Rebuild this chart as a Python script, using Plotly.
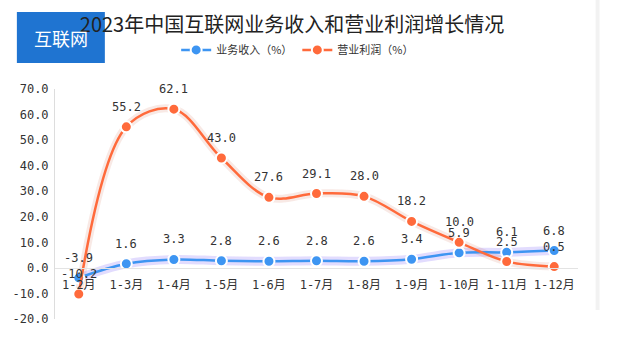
import plotly.graph_objects as go

categories = ["1-2月", "1-3月", "1-4月", "1-5月", "1-6月", "1-7月", "1-8月", "1-9月", "1-10月", "1-11月", "1-12月"]
revenue = [-3.9, 1.6, 3.3, 2.8, 2.6, 2.8, 2.6, 3.4, 5.9, 6.1, 6.8]
profit = [-10.2, 55.2, 62.1, 43.0, 27.6, 29.1, 28.0, 18.2, 10.0, 2.5, 0.5]
y_ticks = [-20, -10, 0, 10, 20, 30, 40, 50, 60, 70]

BLUE = "#3d95f2"
ORANGE = "#ff6a3b"
FONT = "Noto Sans CJK SC"
NUMFONT = "DejaVu Sans Mono, Noto Sans CJK SC"

fig = go.Figure()

# soft glow under lines
fig.add_trace(go.Scatter(x=categories, y=revenue, mode="lines",
                         line=dict(color="rgba(110,80,250,0.2)", width=9, shape="spline"),
                         showlegend=False, hoverinfo="skip"))
fig.add_trace(go.Scatter(x=categories, y=profit, mode="lines",
                         line=dict(color="rgba(200,70,40,0.12)", width=8, shape="spline"),
                         showlegend=False, hoverinfo="skip"))

fig.add_trace(go.Scatter(
    x=categories, y=revenue, name="业务收入（%）",
    mode="lines+markers",
    line=dict(color=BLUE, width=2.5, shape="spline"),
    marker=dict(size=11, color=BLUE, line=dict(color="white", width=2)),
))
fig.add_trace(go.Scatter(
    x=categories, y=profit, name="营业利润（%）",
    mode="lines+markers",
    line=dict(color=ORANGE, width=2.5, shape="spline"),
    marker=dict(size=11, color=ORANGE, line=dict(color="white", width=2)),
))

# data labels above points
for series in (revenue, profit):
    for c, v in zip(categories, series):
        fig.add_annotation(x=c, y=v, text=f"{v:.1f}", showarrow=False,
                           xanchor="center", yanchor="middle", yshift=20,
                           font=dict(family=NUMFONT, size=12, color="#333333"))

ymin, ymax = -20, 70
fig.update_layout(
    width=628, height=358,
    margin=dict(l=43, r=50, t=89, b=39),
    paper_bgcolor="white", plot_bgcolor="white",
    font=dict(family=FONT, size=11, color="#333333"),
    title=dict(text="2023年中国互联网业务收入和营业利润增长情况",
               x=0.465, xanchor="center", y=0.93, yanchor="middle",
               font=dict(family=FONT, size=20, color="#222222")),
    legend=dict(orientation="h", x=0.464, xanchor="center", y=1.17, yanchor="middle",
                font=dict(family=FONT, size=11, color="#333333"),
                itemwidth=30, tracegroupgap=0),
    xaxis=dict(type="category", range=[-0.5, len(categories) - 0.5],
               anchor="free", position=(0 - ymin) / (ymax - ymin),
               showline=True, linecolor="#e3e3e3", linewidth=1,
               showgrid=False, zeroline=False, ticks="", ticklabelstandoff=6,
               tickfont=dict(family=NUMFONT, size=12, color="#333333")),
    yaxis=dict(range=[ymin, ymax], tickvals=y_ticks,
               ticktext=[f"{v:.1f}" for v in y_ticks],
               showline=True, linecolor="#dddddd", linewidth=1,
               showgrid=False, zeroline=False, ticks="", ticklabelstandoff=3,
               tickfont=dict(family=NUMFONT, size=12, color="#333333")),
    showlegend=True,
)

# right-side light gray divider strip
fig.add_shape(type="rect", xref="paper", yref="paper",
              x0=1.0 + 18 / 535, x1=1.0 + 22 / 535, y0=(358 - 310 - 39) / 230, y1=(358 - 39) / 230,
              fillcolor="#f2f2f2", line=dict(width=0), layer="below")

# blue badge
fig.add_shape(type="rect", xref="paper", yref="paper",
              x0=(4 - 43) / 535, x1=(94 - 43) / 535,
              y0=(319 - 63) / 230, y1=(319 - 12) / 230,
              fillcolor="#1f74d1", line=dict(width=0), layer="above")
fig.add_annotation(text="互联网", xref="paper", yref="paper",
                   x=(49 - 43) / 535, y=(319 - 38) / 230, showarrow=False,
                   xanchor="center", yanchor="middle",
                   font=dict(family=FONT, size=18, color="white"))

fig.write_html("out.html", config={"displayModeBar": False},
               post_script="document.body.style.margin='0';")
